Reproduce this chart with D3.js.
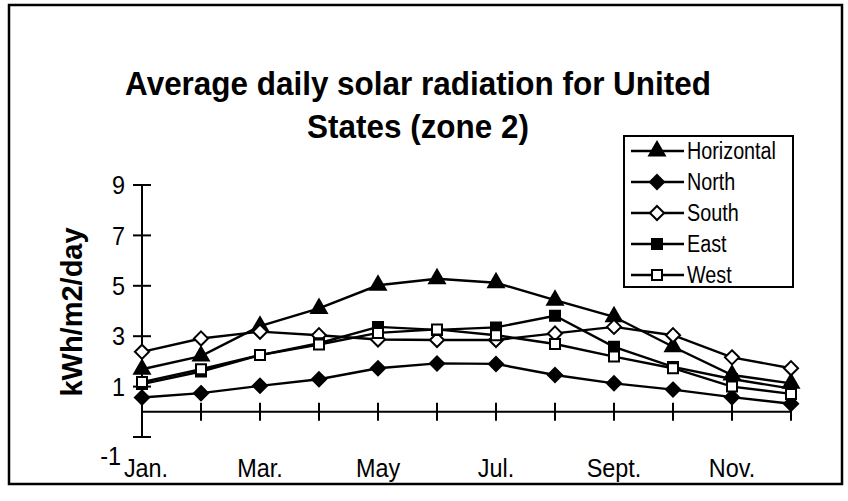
<!DOCTYPE html>
<html>
<head>
<meta charset="utf-8">
<script src="https://cdn.jsdelivr.net/npm/d3@7"></script>
<style>
  html, body { margin: 0; padding: 0; background: #fff; }
  svg { display: block; }
  text { font-family: "Liberation Sans", Arial, Helvetica, sans-serif; fill: #000; }
</style>
</head>
<body>
<svg id="chart" width="848" height="501"></svg>
<script>
// Month categories and the labels shown under every other tick
const months = ["Jan.", "Feb.", "Mar.", "Apr.", "May", "Jun.", "Jul.", "Aug.", "Sept.", "Oct.", "Nov.", "Dec."];
const monthLabels = ["Jan.", "Mar.", "May", "Jul.", "Sept.", "Nov."];
const yTicks = [9, 7, 5, 3, 1, -1];

// Average daily solar radiation, kWh/m2/day, by surface orientation
const horizontal = [1.69, 2.21, 3.40, 4.10, 5.02, 5.28, 5.12, 4.43, 3.77, 2.58, 1.46, 1.13];
const north      = [0.57, 0.74, 1.03, 1.29, 1.73, 1.92, 1.90, 1.46, 1.13, 0.88, 0.58, 0.32];
const south      = [2.38, 2.91, 3.18, 3.04, 2.87, 2.85, 2.85, 3.11, 3.37, 3.04, 2.16, 1.73];
const east       = [1.10, 1.60, 2.25, 2.72, 3.37, 3.25, 3.35, 3.81, 2.58, 1.78, 1.30, 0.92];
const west       = [1.18, 1.69, 2.25, 2.67, 3.13, 3.27, 3.04, 2.69, 2.19, 1.73, 1.00, 0.71];

const seriesNames = ["Horizontal", "North", "South", "East", "West"];
const seriesValues = [horizontal, north, south, east, west];

// Square-shaped diamond (rotated square) marker
const squareDiamond = {
  draw(ctx, size) {
    const r = Math.sqrt(size / 2);
    ctx.moveTo(0, -r); ctx.lineTo(r, 0); ctx.lineTo(0, r); ctx.lineTo(-r, 0); ctx.closePath();
  }
};
const seriesMarkers = [
  { type: d3.symbolTriangle, size: 105, fill: "#000" },
  { type: squareDiamond, size: 100, fill: "#000" },
  { type: squareDiamond, size: 100, fill: "#fff" },
  { type: d3.symbolSquare, size: 100, fill: "#000" },
  { type: d3.symbolSquare, size: 100, fill: "#fff" }
];

const svg = d3.select("#chart");

// Narrow-looking text: horizontal squeeze around the anchor point
function squeezed(sel, x, y, sx) {
  return sel.attr("transform", `translate(${x},${y}) scale(${sx},1)`);
}

// Outer frame
svg.append("rect")
  .attr("x", 9).attr("y", 5).attr("width", 833).attr("height", 479)
  .attr("fill", "none").attr("stroke", "#000").attr("stroke-width", 2.5);

// Title
[["Average daily solar radiation for United", 95], ["States (zone 2)", 138]].forEach(([t, ty]) => {
  squeezed(svg.append("text"), 418, ty, 0.925)
    .attr("text-anchor", "middle")
    .attr("font-weight", "bold")
    .attr("font-size", 34)
    .text(t);
});

// Scales
const x = d3.scaleLinear().domain([0, months.length - 1]).range([142, 791]);
const y = d3.scaleLinear().domain([-1, 9]).range([437, 185]);

// Y axis: line with crossing ticks
const yAxis = svg.append("g").attr("transform", `translate(${x(0)},0)`);
yAxis.append("line")
  .attr("y1", y(-1)).attr("y2", y(9))
  .attr("stroke", "#000").attr("stroke-width", 2);
yAxis.selectAll("line.tick").data(yTicks).join("line")
  .attr("class", "tick")
  .attr("x1", -9).attr("x2", 9)
  .attr("y1", d => y(d)).attr("y2", d => y(d))
  .attr("stroke", "#000").attr("stroke-width", 2);
yAxis.selectAll("text").data(yTicks).join("text")
  .each(function (d) {
    const lowest = d === -1;
    squeezed(d3.select(this), lowest ? -21 : -17, lowest ? y(d) + 19 : y(d), 0.9);
  })
  .attr("dy", "0.35em")
  .attr("text-anchor", "end")
  .attr("font-size", 26)
  .text(d => d);

// X axis sits at zero
const xAxis = svg.append("g").attr("transform", `translate(0,${y(0)})`);
xAxis.append("line")
  .attr("x1", x(0)).attr("x2", x(months.length - 1))
  .attr("stroke", "#000").attr("stroke-width", 2);
xAxis.selectAll("line.tick").data(months).join("line")
  .attr("class", "tick")
  .attr("x1", (d, i) => x(i)).attr("x2", (d, i) => x(i))
  .attr("y1", -9).attr("y2", 9)
  .attr("stroke", "#000").attr("stroke-width", 2);
svg.selectAll("text.month").data(monthLabels).join("text")
  .attr("class", "month")
  .each(function (d) {
    const i = months.indexOf(d);
    squeezed(d3.select(this), x(i) + (i === 0 ? 4 : 0), 468, 0.9);
  })
  .attr("dy", "0.35em")
  .attr("text-anchor", "middle")
  .attr("font-size", 26)
  .text(d => d);

// Y axis title
svg.append("text")
  .attr("transform", "translate(72,312) rotate(-90)")
  .attr("dy", "0.35em")
  .attr("text-anchor", "middle")
  .attr("font-weight", "bold")
  .attr("font-size", 29)
  .text("kWh/m2/day");

// Series lines and markers
const line = d3.line().x((d, i) => x(i)).y(d => y(d));
seriesValues.forEach((vals, k) => {
  const g = svg.append("g");
  g.append("path")
    .attr("d", line(vals))
    .attr("fill", "none").attr("stroke", "#000").attr("stroke-width", 2.4);
  const m = seriesMarkers[k];
  g.selectAll("path.marker").data(vals).join("path")
    .attr("class", "marker")
    .attr("transform", (d, i) => `translate(${x(i)},${y(d)})`)
    .attr("d", d3.symbol().type(m.type).size(m.size))
    .attr("fill", m.fill).attr("stroke", "#000").attr("stroke-width", 2);
});

// Legend
const legend = svg.append("g");
legend.append("rect")
  .attr("x", 624).attr("y", 136).attr("width", 169).attr("height", 151)
  .attr("fill", "#fff").attr("stroke", "#000").attr("stroke-width", 2);
seriesNames.forEach((name, k) => {
  const ly = 151 + k * 31;
  const m = seriesMarkers[k];
  legend.append("line")
    .attr("x1", 631).attr("x2", 684).attr("y1", ly).attr("y2", ly)
    .attr("stroke", "#000").attr("stroke-width", 2.4);
  legend.append("path")
    .attr("transform", `translate(657,${ly})`)
    .attr("d", d3.symbol().type(m.type).size(m.size))
    .attr("fill", m.fill).attr("stroke", "#000").attr("stroke-width", 2);
  squeezed(legend.append("text"), 687, ly, 0.86)
    .attr("dy", "0.35em")
    .attr("font-size", 23)
    .text(name);
});
</script>
</body>
</html>
